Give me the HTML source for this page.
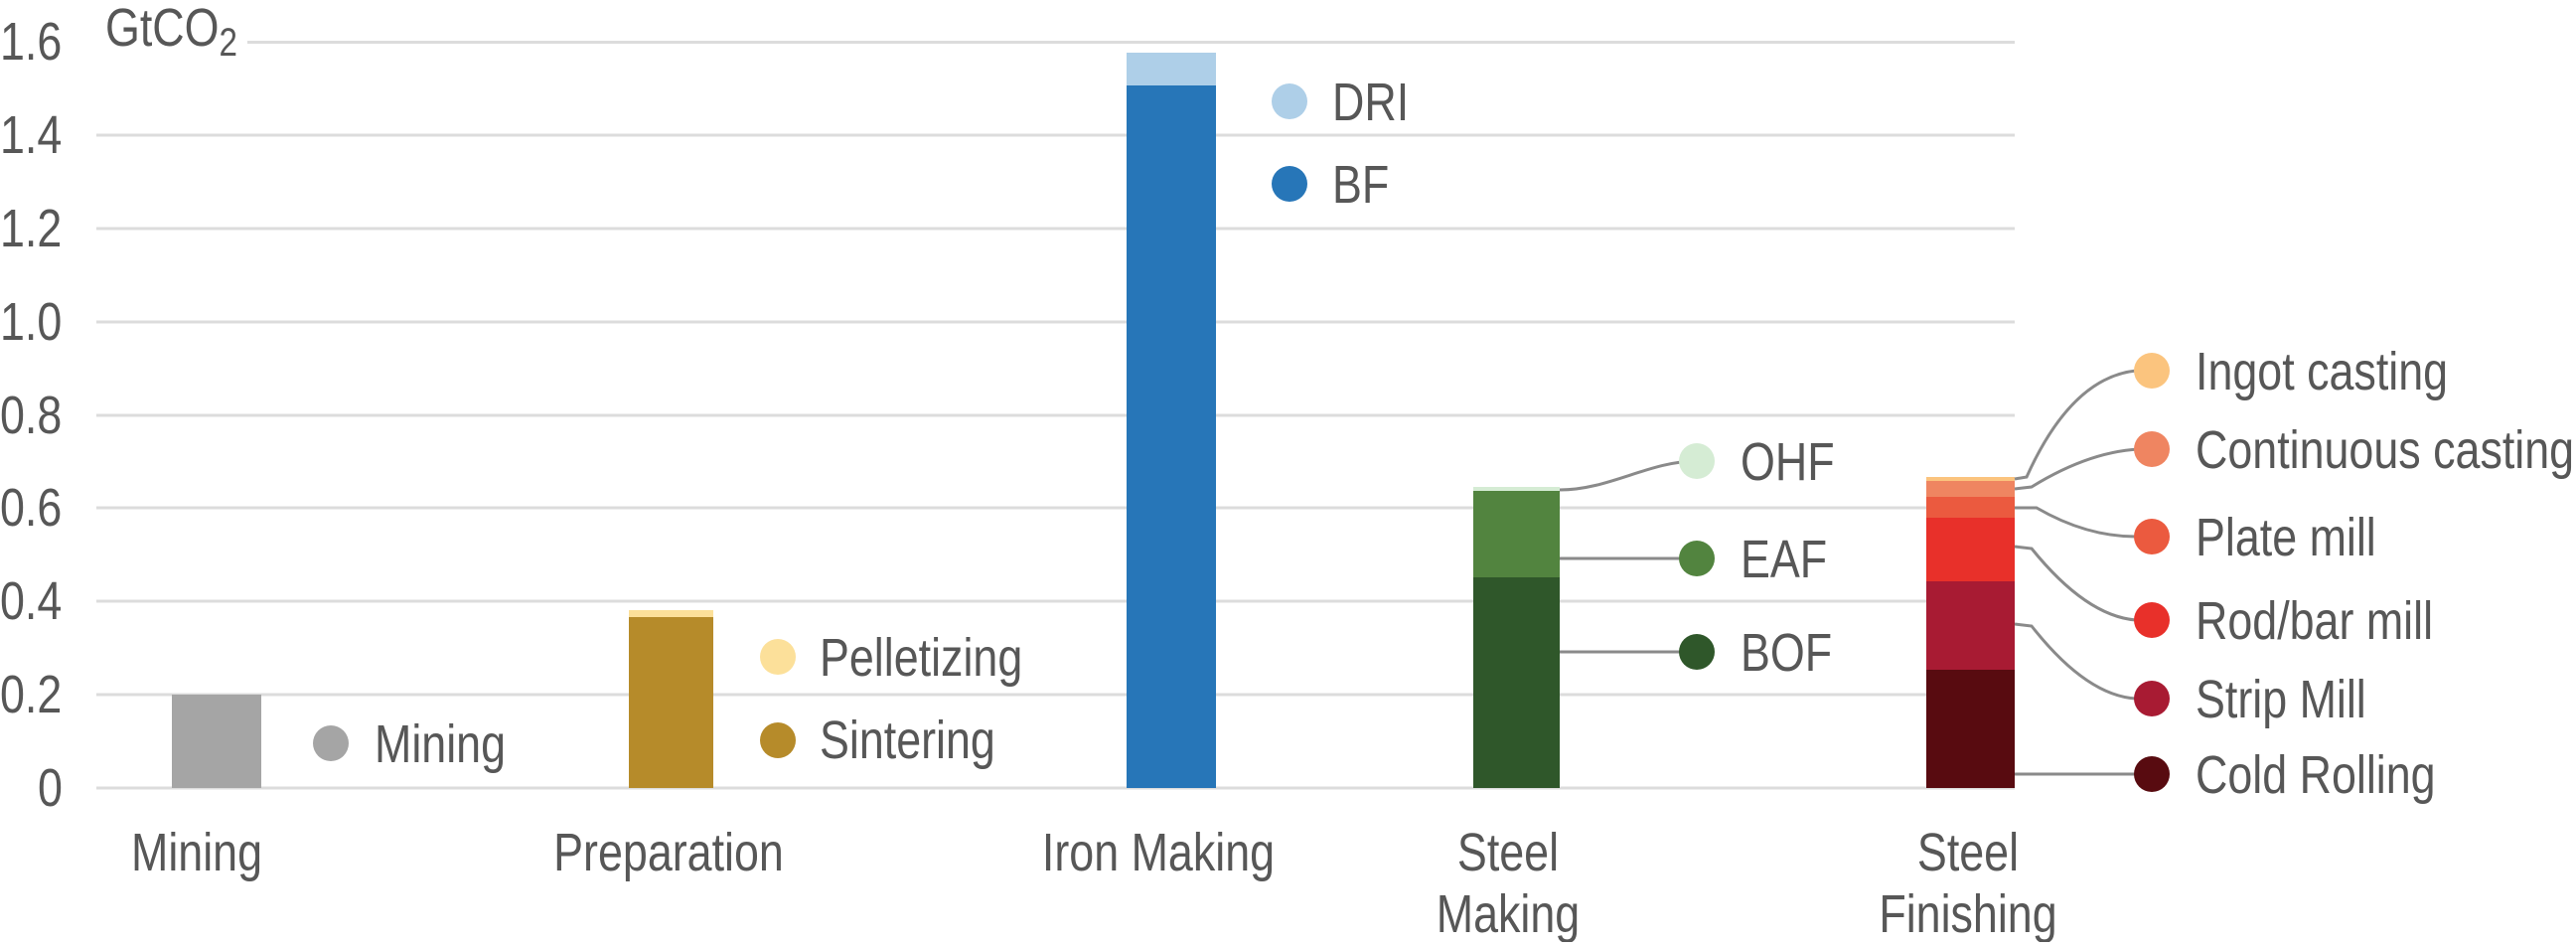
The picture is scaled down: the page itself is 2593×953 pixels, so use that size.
<!DOCTYPE html>
<html><head><meta charset="utf-8"><style>
html,body{margin:0;padding:0;background:#fff}
svg text{font-family:"Liberation Sans Narrow","Liberation Sans",sans-serif;fill:#575757;transform-box:fill-box;transform:scaleX(0.83);transform-origin:left center}
svg .m text{transform-origin:center center}
</style></head><body>
<svg width="2593" height="948" xmlns="http://www.w3.org/2000/svg">
<g stroke="#dcdcdc" stroke-width="3">
<line x1="249" y1="42.5" x2="2028" y2="42.5"/>
<line x1="97" y1="136" x2="2028" y2="136"/>
<line x1="97" y1="230" x2="2028" y2="230"/>
<line x1="97" y1="324" x2="2028" y2="324"/>
<line x1="97" y1="418" x2="2028" y2="418"/>
<line x1="97" y1="511" x2="2028" y2="511"/>
<line x1="97" y1="605" x2="2028" y2="605"/>
<line x1="97" y1="699" x2="2028" y2="699"/>
<line x1="97" y1="793" x2="2028" y2="793"/>
</g>
<g font-size="54">
<text x="0" y="60">1.6</text>
<text x="0" y="154">1.4</text>
<text x="0" y="248">1.2</text>
<text x="0" y="342">1.0</text>
<text x="0" y="436">0.8</text>
<text x="0" y="529">0.6</text>
<text x="0" y="623">0.4</text>
<text x="0" y="717">0.2</text>
<text x="38" y="811">0</text>
<text x="106" y="46">GtCO<tspan font-size="40" dy="10">2</tspan></text>
</g>
<rect x="173" y="699" width="90" height="94" fill="#a5a5a5"/>
<rect x="633" y="614" width="85" height="8" fill="#fce09a"/>
<rect x="633" y="621" width="85" height="172" fill="#b68b2a"/>
<rect x="1134" y="53" width="90" height="34" fill="#aecfe8"/>
<rect x="1134" y="86" width="90" height="707" fill="#2776b8"/>
<rect x="1483" y="490" width="87" height="5" fill="#d5ecd4"/>
<rect x="1483" y="494" width="87" height="88" fill="#52843f"/>
<rect x="1483" y="581" width="87" height="212" fill="#2f572a"/>
<rect x="1939" y="480" width="89" height="5" fill="#fbc47e"/>
<rect x="1939" y="484" width="89" height="17" fill="#ef8561"/>
<rect x="1939" y="500" width="89" height="22" fill="#eb5a3f"/>
<rect x="1939" y="521" width="89" height="65" fill="#e8302a"/>
<rect x="1939" y="585" width="89" height="90" fill="#a81b33"/>
<rect x="1939" y="674" width="89" height="119" fill="#580b10"/>
<g stroke="#8a8a8a" stroke-width="3" fill="none">
<path d="M1570 493 C1620 493 1660 464 1708 464"/>
<line x1="1570" y1="562" x2="1708" y2="562"/>
<line x1="1570" y1="656" x2="1708" y2="656"/>
<path d="M2028 482 L2040 480 Q2085 380 2150 373"/>
<path d="M2028 492 L2045 490 Q2110 450 2166 452"/>
<path d="M2028 511 L2050 511 Q2100 540 2150 540"/>
<path d="M2028 550 L2045 552 Q2100 620 2150 624"/>
<path d="M2028 628 L2045 630 Q2100 700 2150 703"/>
<line x1="2028" y1="779" x2="2166" y2="779"/>
</g>
<circle cx="333" cy="748" r="18" fill="#a5a5a5"/>
<circle cx="783" cy="661" r="18" fill="#fce09a"/>
<circle cx="783" cy="745" r="18" fill="#b68b2a"/>
<circle cx="1298" cy="102" r="18" fill="#aecfe8"/>
<circle cx="1298" cy="185" r="18" fill="#2776b8"/>
<circle cx="1708" cy="464" r="18" fill="#d5ecd4"/>
<circle cx="1708" cy="562" r="18" fill="#52843f"/>
<circle cx="1708" cy="656" r="18" fill="#2f572a"/>
<circle cx="2166" cy="373" r="18" fill="#fbc47e"/>
<circle cx="2166" cy="452" r="18" fill="#ef8561"/>
<circle cx="2166" cy="540" r="18" fill="#eb5a3f"/>
<circle cx="2166" cy="624" r="18" fill="#e8302a"/>
<circle cx="2166" cy="703" r="18" fill="#a81b33"/>
<circle cx="2166" cy="779" r="18" fill="#580b10"/>
<g font-size="54">
<text x="377" y="767">Mining</text>
<text x="825" y="680">Pelletizing</text>
<text x="825" y="763">Sintering</text>
<text x="1341" y="121">DRI</text>
<text x="1341" y="204">BF</text>
<text x="1752" y="483">OHF</text>
<text x="1752" y="581">EAF</text>
<text x="1752" y="675">BOF</text>
<text x="2210" y="392">Ingot casting</text>
<text x="2210" y="471">Continuous casting</text>
<text x="2210" y="559">Plate mill</text>
<text x="2210" y="643">Rod/bar mill</text>
<text x="2210" y="722">Strip Mill</text>
<text x="2210" y="798">Cold Rolling</text>
</g>
<g font-size="54" text-anchor="middle" class="m">
<text x="198" y="876">Mining</text>
<text x="673" y="876">Preparation</text>
<text x="1166" y="876">Iron Making</text>
<text x="1518" y="876">Steel</text>
<text x="1518" y="938">Making</text>
<text x="1981" y="876">Steel</text>
<text x="1981" y="938">Finishing</text>
</g>
</svg>
</body></html>
